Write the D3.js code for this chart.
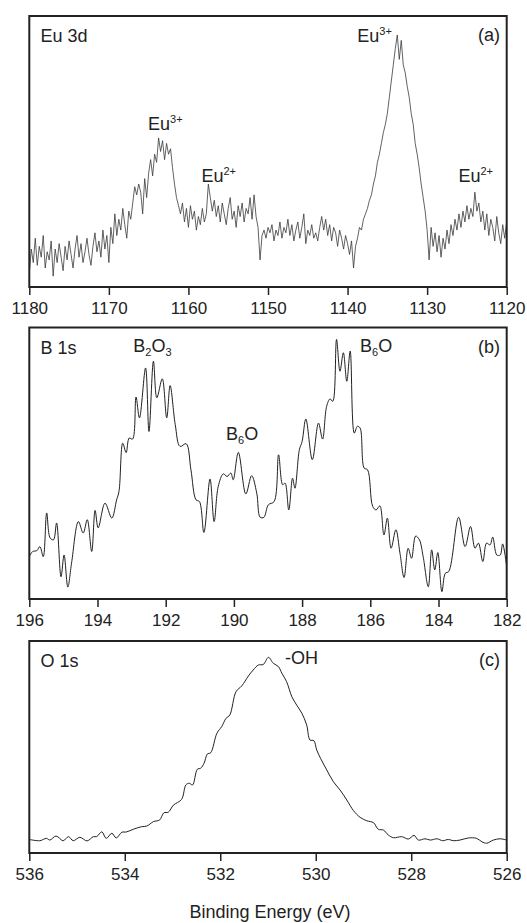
<!DOCTYPE html>
<html>
<head>
<meta charset="utf-8">
<script src="https://cdn.jsdelivr.net/npm/d3@7"></script>
<style>
  body { margin: 0; background: #fff; }
  svg { display: block; font-family: "Liberation Sans", Arial, sans-serif; }
</style>
</head>
<body>
<script>
// Eu 3d spectrum [binding energy (eV), intensity (a.u.)]
var euData = [
  [1180,5],[1179.75,14],[1179.5,9],[1179.25,18],[1179,8],[1178.75,15],[1178.5,11],[1178.25,19],
  [1178,7],[1177.75,13],[1177.5,10],[1177.25,17],[1177,4],[1176.75,14],[1176.5,9],[1176.25,16],
  [1176,11],[1175.75,6],[1175.5,15],[1175.25,10],[1175,17],[1174.75,12],[1174.5,7],[1174.25,14],
  [1174,19],[1173.75,11],[1173.5,16],[1173.25,9],[1173,13],[1172.75,18],[1172.5,12],[1172.25,8],
  [1172,15],[1171.75,20],[1171.5,13],[1171.25,17],[1171,11],[1170.75,21],[1170.5,14],[1170.25,19],
  [1170,9],[1169.75,22],[1169.5,16],[1169.25,27],[1169,19],[1168.75,25],[1168.5,21],[1168.25,29],
  [1168,23],[1167.75,18],[1167.5,28],[1167.25,25],[1167,31],[1166.75,37],[1166.5,34],[1166.25,38],
  [1166,35],[1165.75,27],[1165.5,40],[1165.25,33],[1165,42],[1164.75,47],[1164.5,41],[1164.25,49],
  [1164,46],[1163.75,55],[1163.5,50],[1163.25,54],[1163,47],[1162.75,53],[1162.5,49],[1162.25,51],
  [1162,44],[1161.75,38],[1161.5,33],[1161.25,30],[1161,27],[1160.75,31],[1160.5,24],[1160.25,29],
  [1160,22],[1159.75,30],[1159.5,25],[1159.25,28],[1159,21],[1158.75,26],[1158.5,23],[1158.25,29],
  [1158,24],[1157.75,27],[1157.5,38],[1157.25,33],[1157,28],[1156.75,32],[1156.5,26],[1156.25,30],
  [1156,24],[1155.75,31],[1155.5,27],[1155.25,23],[1155,29],[1154.75,33],[1154.5,25],[1154.25,28],
  [1154,22],[1153.75,30],[1153.5,26],[1153.25,31],[1153,24],[1152.75,29],[1152.5,27],[1152.25,33],
  [1152,25],[1151.75,34],[1151.5,26],[1151.25,22],[1151,10],[1150.75,19],[1150.5,21],[1150.25,18],
  [1150,22],[1149.75,20],[1149.5,23],[1149.25,17],[1149,21],[1148.75,19],[1148.5,24],[1148.25,18],
  [1148,22],[1147.75,20],[1147.5,25],[1147.25,19],[1147,23],[1146.75,17],[1146.5,21],[1146.25,24],
  [1146,18],[1145.75,22],[1145.5,27],[1145.25,16],[1145,21],[1144.75,19],[1144.5,23],[1144.25,18],
  [1144,20],[1143.75,17],[1143.5,22],[1143.25,26],[1143,21],[1142.75,25],[1142.5,19],[1142.25,23],
  [1142,17],[1141.75,22],[1141.5,20],[1141.25,15],[1141,21],[1140.75,18],[1140.5,14],[1140.25,19],
  [1140,16],[1139.75,12],[1139.5,17],[1139.25,7],[1139,15],[1138.75,18],[1138.5,22],[1138.25,21],
  [1138,25],[1137.75,27],[1137.5,29],[1137.25,32],[1137,34],[1136.75,38],[1136.5,41],[1136.25,46],
  [1136,49],[1135.75,53],[1135.5,57],[1135.25,60],[1135,64],[1134.75,70],[1134.5,76],[1134.25,82],
  [1134,88],[1133.75,93],[1133.5,84],[1133.25,91],[1133,82],[1132.75,79],[1132.5,74],[1132.25,70],
  [1132,64],[1131.75,60],[1131.5,53],[1131.25,49],[1131,44],[1130.75,38],[1130.5,33],[1130.25,28],
  [1130,21],[1129.75,10],[1129.5,22],[1129.25,15],[1129,20],[1128.75,13],[1128.5,19],[1128.25,11],
  [1128,18],[1127.75,14],[1127.5,21],[1127.25,16],[1127,23],[1126.75,19],[1126.5,25],[1126.25,21],
  [1126,27],[1125.75,22],[1125.5,28],[1125.25,24],[1125,30],[1124.75,25],[1124.5,29],[1124.25,26],
  [1124,35],[1123.75,28],[1123.5,31],[1123.25,24],[1123,28],[1122.75,21],[1122.5,27],[1122.25,19],
  [1122,25],[1121.75,22],[1121.5,17],[1121.25,26],[1121,20],[1120.75,16],[1120.5,23],[1120.25,18],
  [1120,24]
];

// B 1s spectrum
var bData = [
  [196,15.6],[195.9,17.5],[195.78,17.8],[195.69,19.3],[195.59,15.6],[195.49,31.7],[195.39,22.5],
  [195.29,21.8],[195.2,28],[195.07,8.2],[194.98,16.2],[194.87,4.4],[194.76,13.3],[194.56,28.5],
  [194.42,24.3],[194.3,29.2],[194.17,17.5],[194.07,32.6],[193.98,26.2],[193.78,35.3],[193.58,29.8],
  [193.44,36.5],[193.37,39.6],[193.26,57.4],[193.16,53.9],[193.07,59.3],[192.97,58.9],[192.87,74.4],
  [192.77,66.7],[192.59,85.1],[192.49,61.7],[192.36,87.6],[192.26,74.1],[192.1,81.1],[191.97,66.7],
  [191.87,78.6],[191.72,64.2],[191.58,56.2],[191.4,57.2],[191.26,47.6],[191.11,36.5],[191.01,35.9],
  [190.88,24.5],[190.7,44.2],[190.58,28.5],[190.46,41.4],[190.31,46.1],[190.2,45.1],[190.09,46.4],
  [190.02,43.9],[189.87,54],[189.65,38.7],[189.48,45.4],[189.33,39],[189.23,30.1],[189.12,30.1],
  [188.99,34.7],[188.82,35.9],[188.69,53.1],[188.57,42.1],[188.5,42.7],[188.39,32.8],[188.28,44.5],
  [188.21,40.8],[188.08,55],[188,58],[187.89,66.3],[187.7,51.3],[187.52,64.8],[187.4,58.9],
  [187.28,71],[187.18,73.7],[187.1,72.8],[186.99,95.6],[186.89,83.9],[186.79,90.7],[186.69,80.2],
  [186.59,91.3],[186.47,61.1],[186.38,63.6],[186.3,63],[186.18,48.2],[186.08,47.6],[185.93,34.1],
  [185.83,32.8],[185.72,34.3],[185.6,23.6],[185.5,29.8],[185.39,18.7],[185.25,25.5],[185.13,16.9],
  [185.01,7.9],[184.89,18.7],[184.79,15],[184.67,23.2],[184.56,21.8],[184.45,15.6],[184.3,4.5],
  [184.2,18.1],[184.11,10.7],[184.02,17.1],[183.9,2.7],[183.8,9.5],[183.7,10.1],[183.41,30.1],
  [183.22,19.3],[183.06,26.7],[182.93,18.7],[182.83,20.6],[182.7,13.8],[182.59,20.6],[182.49,19.9],
  [182.41,22.8],[182.29,16.2],[182.19,16.2],[182.12,20.3],[182,11.9]
];

// O 1s spectrum
var oData = [
  [536,6.4],[535.78,5.8],[535.64,6.9],[535.57,6.1],[535.44,8],[535.29,5.8],[535.18,7.7],[535.08,5.8],
  [534.94,7.4],[534.79,5.7],[534.66,7.7],[534.59,7.7],[534.48,10],[534.39,6.9],[534.27,9.3],
  [534.18,7.1],[534.06,9.8],[533.97,9.9],[533.82,11.2],[533.65,12.4],[533.54,12.7],[533.4,14.8],
  [533.27,15.6],[533.18,19],[533.09,19.2],[532.98,22.6],[532.81,25.3],[532.72,32.1],[532.65,32.9],
  [532.58,32.1],[532.48,39.5],[532.41,40],[532.34,42.3],[532.27,46.7],[532.2,47.3],[532.07,56.5],
  [531.97,59.6],[531.88,63.5],[531.8,65.1],[531.67,76.1],[531.55,78.8],[531.41,83.5],[531.31,86.3],
  [531.2,88.7],[531.1,88.9],[530.99,92.3],[530.89,89.5],[530.78,87.9],[530.71,84.8],[530.61,80.8],
  [530.5,73.7],[530.4,69.8],[530.29,65.9],[530.19,60.4],[530.12,53.3],[530.04,53],[529.98,48.6],
  [529.9,44.7],[529.77,39.2],[529.63,33.6],[529.49,29.7],[529.35,25],[529.21,20],[529.07,16.8],
  [528.93,15.2],[528.79,14.3],[528.69,11.2],[528.58,10.8],[528.48,8.5],[528.37,7.2],[528.2,7.7],
  [528.06,6.6],[527.94,8.3],[527.85,6.1],[527.71,6.7],[527.6,6.1],[527.46,6.7],[527.34,5.8],
  [527.22,6.4],[527.12,5.8],[526.98,6.1],[526.8,7.1],[526.63,6.9],[526.52,5.3],[526.42,4.6],
  [526.28,6.1],[526.14,6.7],[526,6.1]
];

var euTicks = [1180, 1170, 1160, 1150, 1140, 1130, 1120];
var bTicks = [196, 194, 192, 190, 188, 186, 184, 182];
var oTicks = [536, 534, 532, 530, 528, 526];

// peak labels: [energy, intensity, text parts]  part[1]: 1 = sup, -1 = sub
var euLabels = [
  [1162.9, 57.9, [["Eu", 0], ["3+", 1]]],
  [1156.2, 38.7, [["Eu", 0], ["2+", 1]]],
  [1136.6, 90.4, [["Eu", 0], ["3+", 1]]],
  [1123.9, 38.7, [["Eu", 0], ["2+", 1]]]
];
var bLabels = [
  [192.39, 90.9, [["B", 0], ["2", -1], ["O", 0], ["3", -1]]],
  [189.76, 58.7, [["B", 0], ["6", -1], ["O", 0]]],
  [185.83, 90.8, [["B", 0], ["6", -1], ["O", 0]]]
];
var oLabels = [
  [530.3, 89.2, [["-OH", 0]]]
];

var W = 527, H = 923;
var left = 29.3, right = 506.7;
var ink = "#222";

var svg = d3.select("body").append("svg")
    .attr("width", W)
    .attr("height", H);

function drawPanel(cfg) {
    var x = d3.scaleLinear()
        .domain(cfg.domain)
        .range([left, right]);
    var y = d3.scaleLinear()
        .domain([0, 100])
        .range([cfg.bottom, cfg.top]);

    var g = svg.append("g");

    g.append("clipPath")
        .attr("id", "clip-" + cfg.id)
        .append("rect")
        .attr("x", left)
        .attr("y", cfg.top)
        .attr("width", right - left)
        .attr("height", cfg.bottom - cfg.top);

    var line = d3.line()
        .x(function (d) { return x(d[0]); })
        .y(function (d) { return y(d[1]); })
        .curve(cfg.curve);

    g.append("path")
        .datum(cfg.data)
        .attr("clip-path", "url(#clip-" + cfg.id + ")")
        .attr("fill", "none")
        .attr("stroke", cfg.color)
        .attr("stroke-width", cfg.width)
        .attr("stroke-linejoin", "round")
        .attr("d", line);

    g.append("rect")
        .attr("x", left)
        .attr("y", cfg.top)
        .attr("width", right - left)
        .attr("height", cfg.bottom - cfg.top)
        .attr("fill", "none")
        .attr("stroke", ink)
        .attr("stroke-width", 2);

    var xAxis = d3.axisBottom(x)
        .tickValues(cfg.ticks)
        .tickSize(8)
        .tickSizeOuter(0)
        .tickPadding(7)
        .tickFormat(d3.format("d"));

    var ax = g.append("g")
        .attr("transform", "translate(0," + cfg.bottom + ")")
        .call(xAxis);
    ax.select(".domain").remove();
    ax.selectAll(".tick line")
        .attr("stroke", ink)
        .attr("stroke-width", 1.5);
    ax.selectAll(".tick text")
        .attr("fill", ink)
        .style("font-size", "17px")
        .style("font-family", "'Liberation Sans', Arial, sans-serif");

    // panel title and letter
    g.append("text")
        .attr("x", 40.5)
        .attr("y", cfg.top + 26)
        .attr("fill", ink)
        .style("font-size", "18px")
        .text(cfg.title);

    g.append("text")
        .attr("x", 500)
        .attr("y", cfg.top + 25)
        .attr("text-anchor", "end")
        .attr("fill", ink)
        .style("font-size", "18px")
        .text(cfg.letter);

    cfg.labels.forEach(function (lb) {
        var t = g.append("text")
            .attr("x", x(lb[0]))
            .attr("y", y(lb[1]))
            .attr("text-anchor", "middle")
            .attr("fill", ink)
            .style("font-size", "18px");
        var shift = 0;
        lb[2].forEach(function (p) {
            var target = p[1] === 1 ? -7 : (p[1] === -1 ? 4 : 0);
            t.append("tspan")
                .attr("dy", target - shift)
                .style("font-size", p[1] === 0 ? "18px" : "11px")
                .text(p[0]);
            shift = target;
        });
    });
}

drawPanel({
    id: "a", domain: [1180, 1120], top: 16, bottom: 287,
    data: euData, ticks: euTicks, labels: euLabels,
    curve: d3.curveLinear, color: "#3a3a3a", width: 0.8,
    title: "Eu 3d", letter: "(a)"
});

drawPanel({
    id: "b", domain: [196, 182], top: 327.5, bottom: 599,
    data: bData, ticks: bTicks, labels: bLabels,
    curve: d3.curveCatmullRom.alpha(0.5), color: "#222", width: 1,
    title: "B 1s", letter: "(b)"
});

drawPanel({
    id: "c", domain: [536, 526], top: 641, bottom: 853,
    data: oData, ticks: oTicks, labels: oLabels,
    curve: d3.curveCatmullRom.alpha(0.5), color: "#222", width: 1,
    title: "O 1s", letter: "(c)"
});

svg.append("text")
    .attr("x", 270)
    .attr("y", 918)
    .attr("text-anchor", "middle")
    .attr("fill", ink)
    .style("font-size", "18px")
    .text("Binding Energy (eV)");
</script>
</body>
</html>
